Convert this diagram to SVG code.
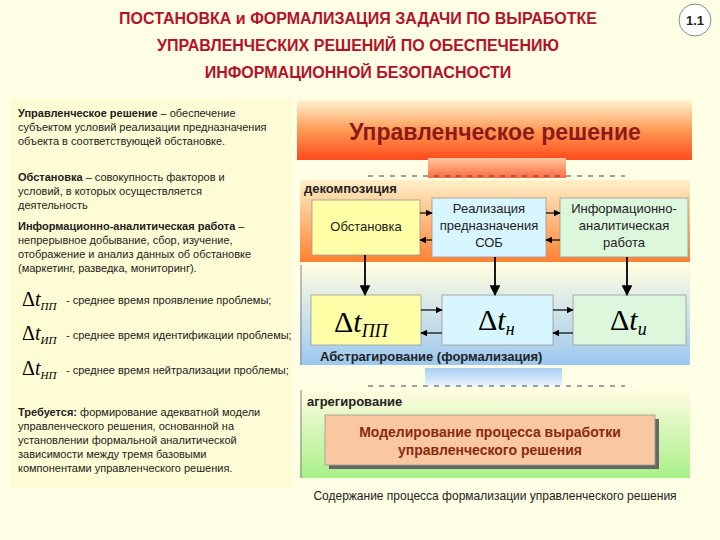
<svg xmlns="http://www.w3.org/2000/svg" width="720" height="540" viewBox="0 0 720 540">
<defs>
<linearGradient id="gTop" x1="0" y1="0" x2="0" y2="1"><stop offset="0" stop-color="#FFF3D0"/><stop offset="0.5" stop-color="#FF9A55"/><stop offset="1" stop-color="#FF4A1A"/></linearGradient>
<linearGradient id="gDec" x1="0" y1="0" x2="0" y2="1"><stop offset="0" stop-color="#FFF0C8"/><stop offset="1" stop-color="#FF8030"/></linearGradient>
<linearGradient id="gAbs" x1="0" y1="0" x2="0" y2="1"><stop offset="0" stop-color="#FFFCE0"/><stop offset="1" stop-color="#9CC8F0"/></linearGradient>
<linearGradient id="gAgg" x1="0" y1="0" x2="0" y2="1"><stop offset="0" stop-color="#FFFCE0"/><stop offset="1" stop-color="#A8F088"/></linearGradient>
<linearGradient id="gC1" x1="0" y1="0" x2="0" y2="1"><stop offset="0" stop-color="#FFC8A0"/><stop offset="1" stop-color="#FF6A40"/></linearGradient>
<linearGradient id="gC2" x1="0" y1="0" x2="0" y2="1"><stop offset="0" stop-color="#A8D0F0"/><stop offset="1" stop-color="#E8F4FF"/></linearGradient>
<marker id="ah" viewBox="0 0 10 10" refX="9" refY="5" markerWidth="6" markerHeight="6" orient="auto"><path d="M0,0L10,5L0,10z" fill="#000"/></marker>
</defs>
<style>
text{font-family:"Liberation Sans",Arial,sans-serif}
.t{font-size:16px;font-weight:bold;fill:#B5122A;text-anchor:middle}
.l{font-size:11px;fill:#222}
.lb{font-weight:bold}
.box{stroke:#999;stroke-width:0.8}
.bt{font-size:13px;fill:#222;text-anchor:middle}
.dt{font-family:"Liberation Serif","Times New Roman",serif}
.it{font-style:italic}
.pl{font-size:13px;font-weight:bold;fill:#222}
.ar{stroke:#000;stroke-width:1.2;fill:none;marker-end:url(#ah)}
.ar2{stroke:#000;stroke-width:1.8;fill:none;marker-end:url(#ah)}
</style>
<rect width="720" height="540" fill="#FFFFE6"/>
<rect x="10" y="98" width="282" height="390" fill="#FEFCD4"/>
<text class="t" x="358" y="24">ПОСТАНОВКА и ФОРМАЛИЗАЦИЯ ЗАДАЧИ ПО ВЫРАБОТКЕ</text>
<text class="t" x="358" y="51">УПРАВЛЕНЧЕСКИХ РЕШЕНИЙ ПО ОБЕСПЕЧЕНИЮ</text>
<text class="t" x="358" y="78">ИНФОРМАЦИОННОЙ БЕЗОПАСНОСТИ</text>
<g id="badge"><circle cx="695" cy="20" r="16" fill="#fff" stroke="#888"/><text x="695" y="25" text-anchor="middle" font-size="13" font-weight="bold" fill="#222">1.1</text></g>

<g id="left">
<text class="l" x="18" y="117"><tspan class="lb">Управленческое решение</tspan> – обеспечение</text>
<text class="l" x="18" y="131">субъектом условий реализации предназначения</text>
<text class="l" x="18" y="145">объекта в соответствующей обстановке.</text>
<text class="l" x="18" y="181"><tspan class="lb">Обстановка</tspan> – совокупность факторов и</text>
<text class="l" x="18" y="195">условий, в которых осуществляется</text>
<text class="l" x="18" y="209">деятельность</text>
<text class="l" x="18" y="230"><tspan class="lb">Информационно-аналитическая работа</tspan> –</text>
<text class="l" x="18" y="244">непрерывное добывание, сбор, изучение,</text>
<text class="l" x="18" y="258">отображение и анализ данных об обстановке</text>
<text class="l" x="18" y="272">(маркетинг, разведка, мониторинг).</text>
<text x="22" y="306" class="dt" font-size="20">Δ<tspan class="it">t</tspan><tspan class="it" font-size="11" dy="4">ПП</tspan></text>
<text class="l" x="66" y="304" font-size="10">- среднее время проявление проблемы;</text>
<text x="22" y="340" class="dt" font-size="20">Δ<tspan class="it">t</tspan><tspan class="it" font-size="11" dy="4">ИП</tspan></text>
<text class="l" x="66" y="339" font-size="10">- среднее время идентификации проблемы;</text>
<text x="22" y="375" class="dt" font-size="20">Δ<tspan class="it">t</tspan><tspan class="it" font-size="11" dy="4">НП</tspan></text>
<text class="l" x="66" y="374" font-size="10">- среднее время нейтрализации проблемы;</text>
<text class="l" x="18" y="416"><tspan class="lb">Требуется:</tspan> формирование адекватной модели</text>
<text class="l" x="18" y="430">управленческого решения, основанной на</text>
<text class="l" x="18" y="444">установлении формальной аналитической</text>
<text class="l" x="18" y="458">зависимости между тремя базовыми</text>
<text class="l" x="18" y="472">компонентами управленческого решения.</text>
</g>

<g id="panels">
<rect x="297" y="100" width="395" height="60" fill="url(#gTop)"/>
<text x="495" y="140" text-anchor="middle" font-size="23" font-weight="bold" fill="#8B1A1A">Управленческое решение</text>
<rect x="428" y="158" width="138" height="20" fill="url(#gC1)"/>
<line x1="368" y1="176" x2="625" y2="176" stroke="#444" stroke-dasharray="5,6"/>
<rect x="300" y="180" width="390" height="82" fill="url(#gDec)"/>
<text class="pl" x="304" y="193">декомпозиция</text>
<rect x="300" y="265" width="390" height="100" fill="url(#gAbs)"/>
<line x1="301" y1="265" x2="301" y2="365" stroke="#888"/>
<text class="pl" x="320" y="361" font-size="14">Абстрагирование (формализация)</text>
<rect x="425" y="368" width="137" height="18" fill="url(#gC2)"/>
<line x1="368" y1="386" x2="625" y2="386" stroke="#444" stroke-dasharray="5,6"/>
<rect x="300" y="390" width="390" height="88" fill="url(#gAgg)"/>
<line x1="301" y1="390" x2="301" y2="478" stroke="#888"/>
<text class="pl" x="307" y="406">агрегирование</text>
</g>

<g id="n1"><rect class="box" x="312" y="200" width="108" height="55" fill="#FFFFA8"/><text class="bt" x="366" y="231">Обстановка</text></g>
<g id="n2"><rect class="box" x="432" y="198" width="114" height="59" fill="#D8F6FF"/><text class="bt" x="489" y="213">Реализация</text><text class="bt" x="489" y="230">предназначения</text><text class="bt" x="489" y="247">СОБ</text></g>
<g id="n3"><rect class="box" x="560" y="198" width="128" height="59" fill="#DDF7DD"/><text class="bt" x="624" y="213">Информационно-</text><text class="bt" x="624" y="230">аналитическая</text><text class="bt" x="624" y="247">работа</text></g>
<g id="n4"><rect class="box" x="311" y="295" width="110" height="50" fill="#FFFFA8"/><text x="334" y="332" class="dt" font-size="30">Δ<tspan class="it">t</tspan><tspan class="it" font-size="18" dy="5">ПП</tspan></text></g>
<g id="n5"><rect class="box" x="442" y="295" width="111" height="50" fill="#D8F6FF"/><text x="478" y="330" class="dt" font-size="30">Δ<tspan class="it">t</tspan><tspan class="it" font-size="18" dy="5">н</tspan></text></g>
<g id="n6"><rect class="box" x="573" y="295" width="113" height="50" fill="#DDF7DD"/><text x="610" y="330" class="dt" font-size="30">Δ<tspan class="it">t</tspan><tspan class="it" font-size="18" dy="5">и</tspan></text></g>
<g id="n7"><rect x="329" y="419" width="330" height="50" fill="#666"/><rect x="325" y="415" width="330" height="50" fill="#F9C8A0" stroke="#999" stroke-width="0.8"/>
<text x="490" y="437" text-anchor="middle" font-size="14" font-weight="bold" fill="#8B2A10">Моделирование процесса выработки</text>
<text x="490" y="455" text-anchor="middle" font-size="14" font-weight="bold" fill="#8B2A10">управленческого решения</text></g>

<g id="connectors">
<line class="ar" x1="420" y1="213" x2="432" y2="213"/>
<line class="ar" x1="432" y1="240" x2="420" y2="240"/>
<line class="ar" x1="546" y1="213" x2="560" y2="213"/>
<line class="ar" x1="560" y1="240" x2="546" y2="240"/>
<line class="ar2" x1="365" y1="255" x2="365" y2="295"/>
<line class="ar2" x1="495" y1="257" x2="495" y2="295"/>
<line class="ar2" x1="627" y1="257" x2="627" y2="295"/>
<line class="ar" x1="421" y1="310" x2="442" y2="310"/>
<line class="ar" x1="442" y1="333" x2="421" y2="333"/>
<line class="ar" x1="553" y1="310" x2="573" y2="310"/>
<line class="ar" x1="573" y1="333" x2="553" y2="333"/>
</g>
<text x="495" y="500" text-anchor="middle" font-size="12" fill="#222">Содержание процесса формализации управленческого решения</text>
</svg>
